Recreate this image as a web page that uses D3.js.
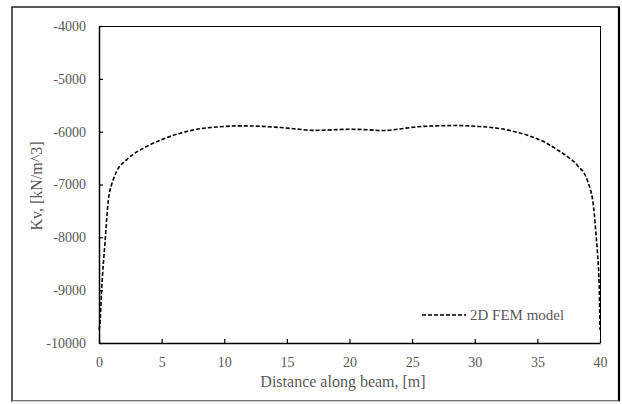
<!DOCTYPE html>
<html>
<head>
<meta charset="utf-8">
<script src="https://cdn.jsdelivr.net/npm/d3@7"></script>
<style>
  html, body { margin: 0; padding: 0; background: #fff; }
  svg { display: block; }
  svg text { font-family: "Liberation Serif", "Times New Roman", "DejaVu Serif", serif !important; fill: #595959; }
</style>
</head>
<body>
<svg id="chart" width="622" height="404"></svg>
<script>
// ---- data ----
const distance = [0, 0.08, 0.21, 0.48, 0.75, 1.0, 1.15, 1.4, 2.2, 3.8, 5, 6.5, 7.8, 9.5, 11.3, 13, 14.5, 16, 17.1, 18.5, 20, 21.5, 22.7, 24, 25.1, 27, 28.6, 30.2, 31.8, 33.2, 34.5, 35.6, 36.6, 37.5, 38.2, 39.0, 39.5, 39.7, 39.8, 39.95, 40];
const kv = [-9750, -9620, -8990, -8100, -7289, -7006, -6900, -6754, -6533, -6281, -6150, -6028, -5955, -5910, -5890, -5900, -5922, -5955, -5975, -5966, -5955, -5965, -5979, -5950, -5915, -5890, -5884, -5900, -5934, -6000, -6093, -6200, -6344, -6490, -6640, -6930, -7450, -8000, -8297, -9053, -9750];
const xTicks = [0, 5, 10, 15, 20, 25, 30, 35, 40];
const yTicks = [-10000, -9000, -8000, -7000, -6000, -5000, -4000];
const seriesName = "2D FEM model";
const xTitle = "Distance along beam, [m]";
const yTitle = "Kv, [kN/m^3]";

const FONT = "'Liberation Serif', 'Times New Roman', 'DejaVu Serif', serif";
const svg = d3.select("#chart");
const W = 622, H = 404;
const L = 99, R = 600, T = 26, B = 343;

// outer frame
svg.append("rect").attr("x", 0).attr("y", 0).attr("width", W).attr("height", H).attr("fill", "#fff");
svg.append("rect").attr("x", 12).attr("y", 7).attr("width", 607).attr("height", 394)
  .attr("fill", "none").attr("stroke", "#222").attr("stroke-width", 1.5);
svg.append("line").attr("x1", 619).attr("x2", 619).attr("y1", 7).attr("y2", 401)
  .attr("stroke", "#000").attr("stroke-width", 2.2);
svg.append("line").attr("x1", 12).attr("x2", 619).attr("y1", 401.5).attr("y2", 401.5)
  .attr("stroke", "#cfcfcf").attr("stroke-width", 1.5);

const x = d3.scaleLinear().domain([0, 40]).range([L, R]);
const y = d3.scaleLinear().domain([-10000, -4000]).range([B, T]);

// plot area border (top, right)
svg.append("line").attr("x1", L).attr("x2", R).attr("y1", T + 0.5).attr("y2", T + 0.5).attr("stroke", "#000").attr("stroke-width", 1);
svg.append("line").attr("x1", R + 0.5).attr("x2", R + 0.5).attr("y1", T).attr("y2", B).attr("stroke", "#000").attr("stroke-width", 1);

const fmt = d => String(d);

// y axis
const yAxis = d3.axisLeft(y).tickValues(yTicks).tickSizeInner(-4).tickSizeOuter(0).tickPadding(13).tickFormat(fmt);
const gy = svg.append("g").attr("transform", `translate(${L},0)`).call(yAxis).attr("font-family", null);
gy.select(".domain").attr("stroke", "#000").attr("stroke-width", 1.5);
gy.selectAll(".tick line").attr("stroke", "#000").attr("stroke-width", 1.2);
gy.selectAll(".tick text").style("font-size", "14px").style("fill", "#595959").style("font-family", FONT);

// x axis
const xAxis = d3.axisBottom(x).tickValues(xTicks).tickSizeInner(-4).tickSizeOuter(0).tickPadding(14).tickFormat(fmt);
const gx = svg.append("g").attr("transform", `translate(0,${B})`).call(xAxis).attr("font-family", null);
gx.select(".domain").attr("stroke", "#000").attr("stroke-width", 1.5);
gx.selectAll(".tick line").attr("stroke", "#000").attr("stroke-width", 1.2);
gx.selectAll(".tick text").style("font-size", "14px").style("fill", "#595959").style("font-family", FONT);

// line
const data = distance.map((d, i) => ({ x: d, y: kv[i] }));
const line = d3.line().x(d => x(d.x)).y(d => y(d.y)).curve(d3.curveMonotoneX);
svg.append("path").datum(data).attr("d", line)
  .attr("fill", "none").attr("stroke", "#000").attr("stroke-width", 1.6)
  .attr("stroke-dasharray", "4,2");

// titles
svg.append("text").attr("x", 343).attr("y", 387).attr("text-anchor", "middle")
  .style("font-size", "16px").style("font-family", FONT).text(xTitle);
svg.append("text").attr("transform", "translate(42,186) rotate(-90)").attr("text-anchor", "middle")
  .style("font-size", "16px").style("font-family", FONT).text(yTitle);

// legend
svg.append("line").attr("x1", 422).attr("x2", 466).attr("y1", 315).attr("y2", 315)
  .attr("stroke", "#000").attr("stroke-width", 1.6).attr("stroke-dasharray", "4,2");
svg.append("text").attr("x", 470).attr("y", 320).style("font-size", "15px").style("font-family", FONT).text(seriesName);
</script>
</body>
</html>
